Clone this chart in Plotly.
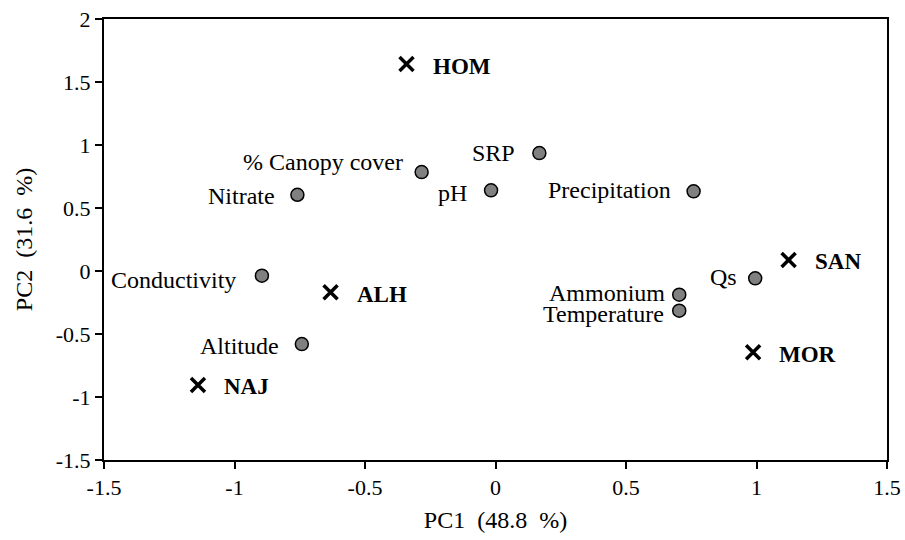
import plotly.graph_objects as go

# Variables (loadings)
var_names = ["% Canopy cover", "SRP", "Nitrate", "pH", "Precipitation",
             "Conductivity", "Altitude", "Ammonium", "Temperature", "Qs"]
var_pc1 = [-0.283, 0.168, -0.759, -0.017, 0.759, -0.895, -0.742, 0.704, 0.704, 0.995]
var_pc2 = [0.785, 0.936, 0.605, 0.640, 0.632, -0.037, -0.580, -0.188, -0.315, -0.058]

# Sites (scores)
site_names = ["HOM", "ALH", "NAJ", "SAN", "MOR"]
site_pc1 = [-0.341, -0.632, -1.140, 1.123, 0.987]
site_pc2 = [1.642, -0.169, -0.904, 0.088, -0.645]

x_tickvals = [-1.5, -1, -0.5, 0, 0.5, 1, 1.5]
x_ticktext = ["-1.5", "-1", "-0.5", "0", "0.5", "1", "1.5"]
y_tickvals = [-1.5, -1, -0.5, 0, 0.5, 1, 1.5, 2]
y_ticktext = ["-1.5", "-1", "-0.5", "0", "0.5", "1", "1.5", "2"]

FONT = "Liberation Serif, Times New Roman, serif"

# label offsets (pixels) for variable labels: (xshift, yshift)
var_label_shift = {
    "% Canopy cover": (-17, 10), "SRP": (-22, 0), "Nitrate": (-20, -1),
    "pH": (-22, -3), "Precipitation": (-21, 1), "Conductivity": (-24, -4),
    "Altitude": (-21, -2), "Ammonium": (-12, 2), "Temperature": (-13, -3),
    "Qs": (-16, 1),
}

fig = go.Figure()
fig.add_trace(go.Scatter(
    x=var_pc1, y=var_pc2, mode="markers",
    marker=dict(symbol="circle", size=13, color="#808080",
                line=dict(color="black", width=1.5)),
    hoverinfo="skip", showlegend=False))
fig.add_trace(go.Scatter(
    x=site_pc1, y=site_pc2, mode="markers",
    marker=dict(symbol="x-thin", size=14, color="black",
                line=dict(color="black", width=3.5)),
    hoverinfo="skip", showlegend=False))

for n, x, y in zip(var_names, var_pc1, var_pc2):
    dx, dy = var_label_shift.get(n, (-20, 0))
    fig.add_annotation(x=x, y=y, xref="x", yref="y", text=n, showarrow=False,
                       xanchor="right", yanchor="middle", xshift=dx, yshift=dy,
                       font=dict(family=FONT, size=24, color="black"))

for n, x, y in zip(site_names, site_pc1, site_pc2):
    fig.add_annotation(x=x, y=y, xref="x", yref="y", text="<b>" + n + "</b>",
                       showarrow=False, xanchor="left", yanchor="middle",
                       xshift=24, yshift=-2,
                       font=dict(family=FONT, size=23, color="black"))

axis_common = dict(showgrid=False, zeroline=False, showline=True, linecolor="black",
                   linewidth=2, mirror=True, ticks="outside", ticklen=7,
                   tickwidth=2, tickcolor="black", automargin=False,
                   tickfont=dict(family=FONT, size=22, color="black"))

fig.update_xaxes(range=[-1.5, 1.5], tickvals=x_tickvals, ticktext=x_ticktext,
                 title=dict(text="PC1\u00a0 (48.8\u00a0 %)", font=dict(family=FONT, size=24, color="black"),
                            standoff=12),
                 **axis_common)
fig.update_yaxes(range=[-1.5, 2], tickvals=y_tickvals, ticktext=y_ticktext,
                 title=dict(text="PC2\u00a0 (31.6\u00a0 %)", font=dict(family=FONT, size=24, color="black"),
                            standoff=16),
                 **axis_common)

fig.update_layout(width=905, height=540, plot_bgcolor="white", paper_bgcolor="white",
                  font=dict(family=FONT),
                  margin=dict(l=104, r=18, t=19, b=80), showlegend=False)

fig.write_html("out.html", config={"displayModeBar": False},
               post_script="document.body.style.margin='0';document.body.style.overflow='hidden';")
